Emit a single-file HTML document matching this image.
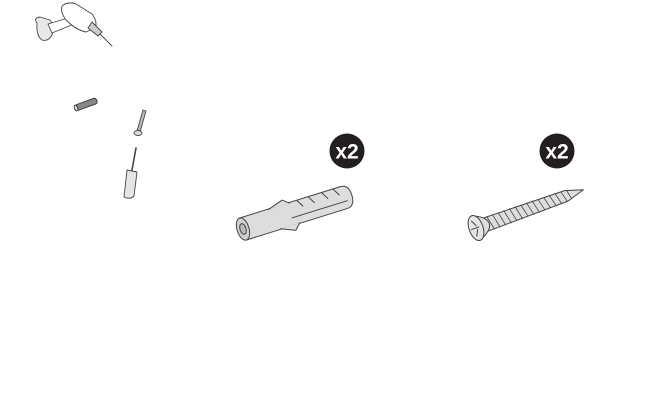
<!DOCTYPE html>
<html><head><style>
html,body{margin:0;padding:0;background:#fff;width:672px;height:416px;overflow:hidden}
</style></head><body>
<svg width="672" height="416" viewBox="0 0 672 416" xmlns="http://www.w3.org/2000/svg" stroke-linejoin="round" stroke-linecap="round">
<!-- drill -->
<g fill="#fff" stroke="#444" stroke-width="0.9">
 <path d="M37,23 Q33,18 40,17 L50,20 Q54,25 52,35 Q48,42 42,40 Q36,36 37,23Z" fill="#e8e8e8"/>
 <path d="M48,24 L68,18 L74,24 L52,33Z"/>
 <path d="M62,6 Q68,1 76,4 L92,14 Q98,22 95,28 L86,32 Q76,30 66,20 Q60,12 62,6Z"/>
 <path d="M92,22 L102,32 L98,36 L88,28Z" fill="#ccc"/>
 <line x1="100" y1="34" x2="112" y2="46"/>
</g>
<!-- small anchor -->
<g transform="translate(76,108) rotate(-20)" stroke="#333" stroke-width="0.9">
 <rect x="0" y="-3" width="22" height="6" rx="2" fill="#888"/>
 <ellipse cx="0" cy="0" rx="1.6" ry="3" fill="#ddd"/>
</g>
<!-- small screw -->
<g stroke="#444" stroke-width="0.9" fill="#ddd">
 <path d="M137,131 L143,110 L146,111 L140,132Z" fill="#bbb"/>
 <ellipse cx="138" cy="133" rx="4" ry="2.5"/>
</g>
<!-- screwdriver -->
<g stroke="#444" stroke-width="0.9" fill="#e5e5e5">
 <line x1="136" y1="148" x2="132" y2="170" stroke-width="1.6"/>
 <path d="M127,170 L137,172 L134,196 Q130,200 124,197Z"/>
</g>
<!-- badges -->
<circle cx="347" cy="151" r="17.5" fill="#231f20"/>
<text x="347" y="158.5" text-anchor="middle" font-family="Liberation Sans, sans-serif" font-weight="bold" font-size="21" fill="#fff">x2</text>
<circle cx="557" cy="151" r="17.5" fill="#231f20"/>
<text x="557" y="158.5" text-anchor="middle" font-family="Liberation Sans, sans-serif" font-weight="bold" font-size="21" fill="#fff">x2</text>
<!-- big anchor -->
<g transform="translate(243,229) rotate(-17.3)" stroke="#444" stroke-width="1" fill="#ddd">
 <path d="M0,-11.5 L106,-11.5 Q114,-11 114,0 Q114,11 106,11.5 L0,11.5Z"/>
 <ellipse cx="0" cy="0" rx="6" ry="11.5" fill="#d0d0d0"/>
 <ellipse cx="0" cy="0" rx="3" ry="5.5" fill="#bbb"/>
 <path d="M30,-11 L46,-16 L52,-11" fill="#ddd"/>
 <path d="M36,11 L50,17 L56,11" fill="#ddd"/>
 <line x1="50" y1="4" x2="108" y2="4"/>
 <line x1="60" y1="-11" x2="64" y2="-4"/>
 <line x1="72" y1="-11" x2="76" y2="-4"/>
 <line x1="86" y1="-11" x2="90" y2="-4"/>
 <line x1="98" y1="-11" x2="102" y2="-4"/>
</g>
<!-- big screw -->
<g transform="translate(476,228) rotate(-19.6)" stroke="#444" stroke-width="1" fill="#ddd">
 <path d="M8,-7 L96,-5.5 L114,0 L96,5.5 L8,7Z"/>
 <g stroke-width="0.8">
  <line x1="14" y1="-7" x2="17" y2="7"/><line x1="20" y1="-7" x2="23" y2="7"/>
  <line x1="26" y1="-7" x2="29" y2="7"/><line x1="32" y1="-7" x2="35" y2="7"/>
  <line x1="38" y1="-7" x2="41" y2="7"/><line x1="44" y1="-7" x2="47" y2="7"/>
  <line x1="50" y1="-6.5" x2="53" y2="6.5"/><line x1="56" y1="-6.5" x2="59" y2="6.5"/>
  <line x1="62" y1="-6.5" x2="65" y2="6.5"/><line x1="68" y1="-6" x2="71" y2="6"/>
  <line x1="74" y1="-6" x2="77" y2="6"/><line x1="80" y1="-6" x2="83" y2="6"/>
  <line x1="86" y1="-6" x2="89" y2="6"/><line x1="92" y1="-5.5" x2="95" y2="5.5"/>
  <line x1="98" y1="-4.5" x2="100" y2="4.5"/>
 </g>
 <path d="M0,-13 Q14,-7 14,0 Q14,7 0,13Z"/>
 <ellipse cx="0" cy="0" rx="7" ry="13" fill="#e6e6e6"/>
 <path d="M-2,-8 L1,-2 M-2,8 L1,2 M-5,0 L3,0" fill="none"/>
</g>
</svg>
</body></html>
